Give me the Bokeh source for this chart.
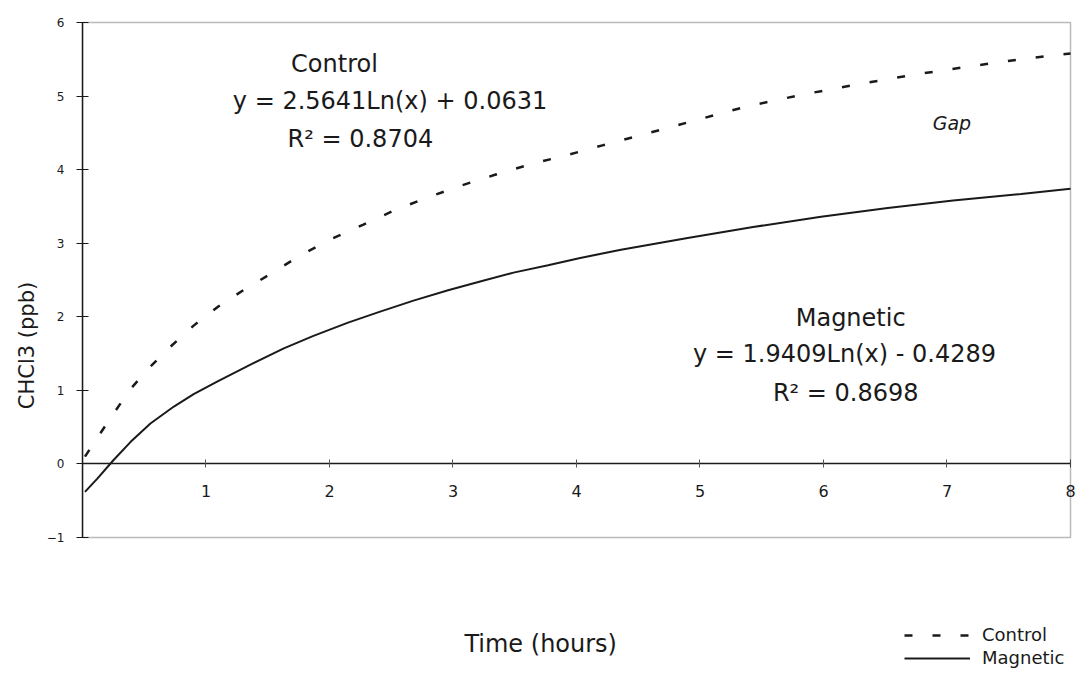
from bokeh.plotting import figure
from bokeh.models import Label, Legend, LegendItem, FixedTicker, Range1d, BoxAnnotation
from bokeh.embed import file_html
from bokeh.resources import INLINE

# --- data ---
hours_control = [0.02, 0.15, 0.27, 0.39, 0.53, 0.71, 0.90, 1.10, 1.32, 1.52, 1.77, 2.02,
                 2.27, 2.53, 2.79, 3.06, 3.34, 3.64, 3.93, 4.21, 4.48, 4.92, 5.38, 5.83,
                 6.28, 6.73, 7.17, 7.60, 8.00]
chcl3_control = [0.10, 0.43, 0.73, 1.02, 1.29, 1.59, 1.88, 2.14, 2.38, 2.58, 2.84, 3.06,
                 3.25, 3.45, 3.62, 3.78, 3.93, 4.08, 4.20, 4.33, 4.45, 4.65, 4.86, 5.02,
                 5.16, 5.29, 5.40, 5.50, 5.58]
hours_magnetic = [0.02, 0.12, 0.25, 0.39, 0.55, 0.74, 0.90, 1.09, 1.36, 1.63, 1.87, 2.15,
                  2.41, 2.68, 2.96, 3.22, 3.49, 3.77, 4.03, 4.36, 4.90, 5.43, 5.98, 6.52,
                  7.05, 7.60, 8.00]
chcl3_magnetic = [-0.38, -0.20, 0.05, 0.30, 0.55, 0.78, 0.95, 1.12, 1.35, 1.57, 1.74, 1.92,
                  2.07, 2.22, 2.36, 2.48, 2.60, 2.70, 2.80, 2.91, 3.07, 3.22, 3.36, 3.48,
                  3.58, 3.67, 3.74]
x_ticks = [1, 2, 3, 4, 5, 6, 7, 8]
y_ticks = [-1, 0, 1, 2, 3, 4, 5, 6]
x_limits = [0, 8]
y_limits = [-1, 6]
series_names = ["Control", "Magnetic"]
control_fit = ["Control", "y = 2.5641Ln(x) + 0.0631", "R\u00b2 = 0.8704"]
magnetic_fit = ["Magnetic", "y = 1.9409Ln(x) - 0.4289", "R\u00b2 = 0.8698"]
note_text = "Gap"
x_title = "Time (hours)"
y_title = "CHCl3 (ppb)"

FONT = "DejaVu Sans"
INK = "#1a1a1a"

# frame covers the area below the chart box too, so the legend and the
# x title (drawn inside the frame) are not clipped
p = figure(width=1076, height=690,
           x_range=Range1d(0, 8.0486), y_range=Range1d(-3.0796, 6.299),
           x_axis_location="above",
           output_backend="svg", toolbar_location=None,
           min_border_left=82, min_border_right=0, min_border_top=0, min_border_bottom=0)
p.background_fill_color = "white"
p.border_fill_color = "white"
p.outline_line_color = None
p.xgrid.visible = False
p.ygrid.visible = False

# chart box
p.add_layout(BoxAnnotation(left=x_limits[0], right=x_limits[1], bottom=y_limits[0], top=y_limits[1],
                           fill_alpha=0, line_color=INK, line_width=1.5))

# x axis sits on the zero line, labels pushed below it
xa = p.xaxis[0]
xa.fixed_location = 0
xa.bounds = (x_limits[0], x_limits[1])
xa.ticker = FixedTicker(ticks=x_ticks)
xa.minor_tick_line_color = None
xa.major_tick_in = 4
xa.major_tick_out = 4
xa.major_tick_line_width = 1
xa.major_tick_line_color = "#555555"
xa.axis_line_color = INK
xa.axis_line_width = 1.5
xa.major_label_standoff = -37
xa.major_label_text_font = FONT
xa.major_label_text_font_size = "16px"
xa.major_label_text_color = INK

ya = p.yaxis[0]
ya.bounds = (y_limits[0], y_limits[1])
ya.ticker = FixedTicker(ticks=y_ticks)
ya.minor_tick_line_color = None
ya.major_tick_in = 6
ya.major_tick_out = 6
ya.axis_line_color = INK
ya.axis_line_width = 1.5
ya.major_tick_line_color = INK
ya.major_label_standoff = 12
ya.major_label_text_font = FONT
ya.major_label_text_font_size = "12px"
ya.major_label_text_color = INK
ya.axis_label = y_title
ya.axis_label_text_font = FONT
ya.axis_label_text_font_size = "21px"
ya.axis_label_text_font_style = "normal"
ya.axis_label_text_color = INK
ya.axis_label_standoff = 5

r_control = p.line(hours_control, chcl3_control, line_color=INK, line_width=2.5, line_dash="8 20")
r_magnetic = p.line(hours_magnetic, chcl3_magnetic, line_color=INK, line_width=2)

def lab(x, y, text, size="24px", style="normal"):
    p.add_layout(Label(x=x, y=y, text=text, text_align="center", text_baseline="middle",
                       text_font=FONT, text_font_size=size, text_color=INK,
                       text_font_style=style))

lab(2.04, 5.44, control_fit[0])
lab(2.49, 4.93, control_fit[1])
lab(2.25, 4.42, control_fit[2])
lab(6.22, 1.99, magnetic_fit[0])
lab(6.17, 1.50, magnetic_fit[1])
lab(6.18, 0.97, magnetic_fit[2])
lab(7.04, 4.63, note_text, size="19px", style="italic")
lab(3.71, -2.454, x_title, size="24px")

legend = Legend(items=[LegendItem(label=series_names[0], renderers=[r_control]),
                       LegendItem(label=series_names[1], renderers=[r_magnetic])],
                location=(822, 22))
legend.background_fill_alpha = 0
legend.border_line_color = None
legend.padding = 0
legend.margin = 0
legend.spacing = 2
legend.glyph_width = 66
legend.glyph_height = 20
legend.label_standoff = 12
legend.label_text_font = FONT
legend.label_text_font_size = "18px"
legend.label_text_color = INK
p.add_layout(legend, "center")

open("out.html", "w").write(file_html(p, INLINE))
